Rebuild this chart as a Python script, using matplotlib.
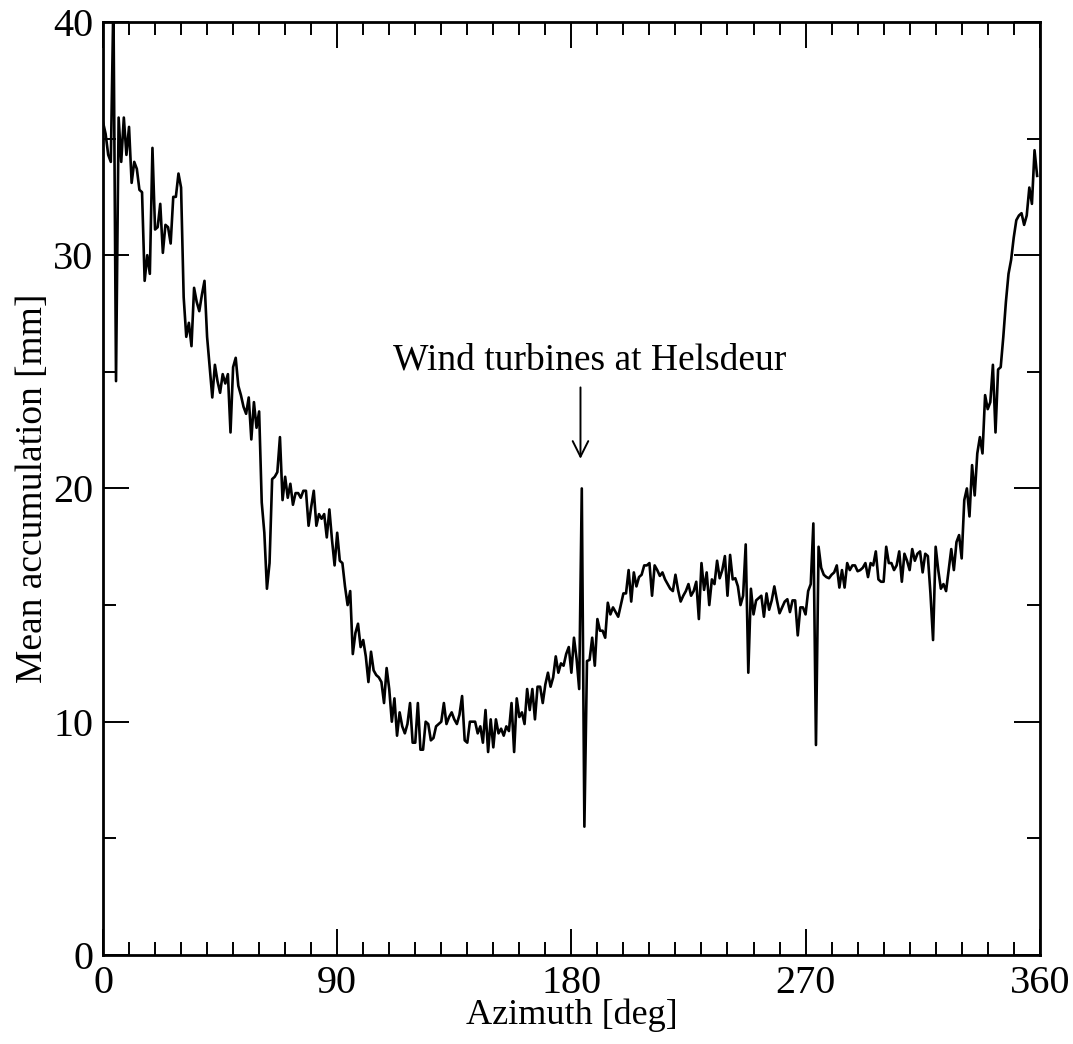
import numpy as np
import matplotlib
matplotlib.use("Agg")
import matplotlib.pyplot as plt
from matplotlib.ticker import MultipleLocator

# mean accumulation per 1 deg azimuth bin
accum_mm = [
    35.7, 35.2, 34.3, 34.0, 41.0, 24.6, 35.9, 34.0, 35.9, 34.3,   # 0-9
    35.5, 33.1, 34.0, 33.7, 32.8, 32.7, 28.9, 30.0, 29.2, 34.6,   # 10-19
    31.1, 31.2, 32.2, 30.1, 31.3, 31.2, 30.5, 32.5, 32.5, 33.5,   # 20-29
    32.9, 28.2, 26.5, 27.1, 26.1, 28.6, 28.0, 27.6, 28.3, 28.9,   # 30-39
    26.5, 25.2, 23.9, 25.3, 24.6, 24.1, 24.9, 24.5, 24.9, 22.4,   # 40-49
    25.2, 25.6, 24.4, 24.0, 23.5, 23.2, 23.9, 22.1, 23.7, 22.6,   # 50-59
    23.3, 19.4, 18.1, 15.7, 16.8, 20.4, 20.5, 20.7, 22.2, 19.5,   # 60-69
    20.5, 19.6, 20.2, 19.3, 19.8, 19.8, 19.6, 19.9, 19.9, 18.4,   # 70-79
    19.2, 19.9, 18.4, 18.9, 18.7, 18.9, 17.9, 19.1, 17.8, 16.7,   # 80-89
    18.1, 16.9, 16.8, 15.8, 15.0, 15.6, 12.9, 13.8, 14.2, 13.2,   # 90-99
    13.5, 12.8, 11.7, 13.0, 12.2, 12.0, 11.9, 11.7, 10.8, 12.3,   # 100-109
    11.4, 10.0, 11.0, 9.4, 10.4, 9.8, 9.5, 9.9, 10.8, 9.1,        # 110-119
    9.1, 10.8, 8.8, 8.8, 10.0, 9.9, 9.2, 9.3, 9.8, 9.9,           # 120-129
    10.0, 10.8, 9.9, 10.2, 10.4, 10.1, 9.9, 10.3, 11.1, 9.2,      # 130-139
    9.1, 10.0, 10.0, 10.0, 9.5, 9.8, 9.1, 10.5, 8.7, 10.1,        # 140-149
    8.9, 10.1, 9.5, 9.7, 9.4, 9.8, 9.6, 10.8, 8.7, 11.0,          # 150-159
    10.2, 10.4, 9.9, 11.4, 10.5, 11.4, 10.1, 11.5, 11.5, 10.8,    # 160-169
    11.6, 12.1, 11.5, 11.9, 12.8, 12.1, 12.5, 12.4, 12.9, 13.2,   # 170-179
    12.1, 13.6, 12.7, 11.4, 20.0, 5.5, 12.6, 12.65, 13.6, 12.4,   # 180-189
    14.4, 13.9, 13.9, 13.6, 15.1, 14.6, 14.9, 14.7, 14.5, 15.0,   # 190-199
    15.5, 15.5, 16.5, 15.15, 16.4, 15.8, 16.2, 16.3, 16.7, 16.7,  # 200-209
    16.8, 15.4, 16.7, 16.5, 16.25, 16.4, 16.1, 15.9, 15.7, 15.6,  # 210-219
    16.3, 15.65, 15.15, 15.4, 15.6, 15.9, 15.4, 15.6, 16.0, 14.4, # 220-229
    16.8, 15.65, 16.4, 15.0, 16.1, 15.9, 16.9, 16.15, 16.5, 17.1, # 230-239
    15.4, 17.15, 16.1, 16.15, 15.8, 15.0, 15.4, 17.6, 12.1, 15.7, # 240-249
    14.6, 15.2, 15.3, 15.4, 14.5, 15.5, 14.8, 15.2, 15.8, 15.2,   # 250-259
    14.65, 14.9, 15.15, 15.25, 14.7, 15.2, 15.2, 13.7, 14.9, 14.9, # 260-269
    14.6, 15.6, 15.9, 18.5, 9.0, 17.5, 16.6, 16.3, 16.2, 16.15,   # 270-279
    16.3, 16.4, 16.7, 15.75, 16.5, 15.75, 16.8, 16.5, 16.7, 16.7, # 280-289
    16.45, 16.5, 16.6, 16.8, 16.2, 16.8, 16.7, 17.3, 16.1, 16.0,  # 290-299
    16.0, 17.5, 16.8, 16.8, 16.5, 16.7, 17.3, 16.0, 17.2, 16.9,   # 300-309
    16.5, 17.4, 16.9, 17.2, 17.3, 16.4, 17.2, 17.1, 15.5, 13.5,   # 310-319
    17.5, 16.5, 15.7, 15.9, 15.6, 16.5, 17.4, 16.5, 17.7, 18.0,   # 320-329
    17.0, 19.5, 20.0, 18.8, 21.0, 19.7, 21.5, 22.2, 21.5, 24.0,   # 330-339
    23.4, 23.7, 25.3, 22.4, 25.1, 25.2, 26.5, 28.0, 29.2, 29.8,   # 340-349
    30.75, 31.5, 31.7, 31.8, 31.3, 31.7, 32.9, 32.2, 34.5, 33.4,  # 350-359
]
azimuth_deg = np.arange(len(accum_mm))

x_ticks = [0, 90, 180, 270, 360]
y_ticks = [0, 10, 20, 30, 40]
note_text = "Wind turbines at Helsdeur"
note_az = 183.5

plt.rcParams["font.family"] = ["Liberation Serif", "DejaVu Serif"]

fig = plt.figure(figsize=(10.73, 10.44), dpi=100)
ax = fig.add_axes([0.096, 0.0853, 0.873, 0.8937])

ax.plot(azimuth_deg, accum_mm, color="black", linewidth=1.9)

ax.set_xlim(0, 360)
ax.set_ylim(0, 40)
ax.set_xticks(x_ticks)
ax.set_yticks(y_ticks)
ax.xaxis.set_minor_locator(MultipleLocator(10))
ax.yaxis.set_minor_locator(MultipleLocator(5))
ax.tick_params(which="both", direction="in", top=True, right=True,
               width=1.4, labelsize=29, pad=7)
ax.tick_params(which="major", length=19)
ax.tick_params(which="minor", length=9.5)
for sp in ax.spines.values():
    sp.set_linewidth(2.0)

ax.set_xlabel("Azimuth [deg]", fontsize=26, labelpad=-2)
ax.set_ylabel("Mean accumulation [mm]", fontsize=27, labelpad=2)

ax.annotate("", xy=(note_az, 21.15), xytext=(note_az, 24.45),
            arrowprops=dict(arrowstyle="->", color="black", lw=1.4,
                            mutation_scale=28))
ax.text(187, 25.1, note_text, ha="center", va="baseline", fontsize=27)

fig.savefig("out.png", dpi=100)
